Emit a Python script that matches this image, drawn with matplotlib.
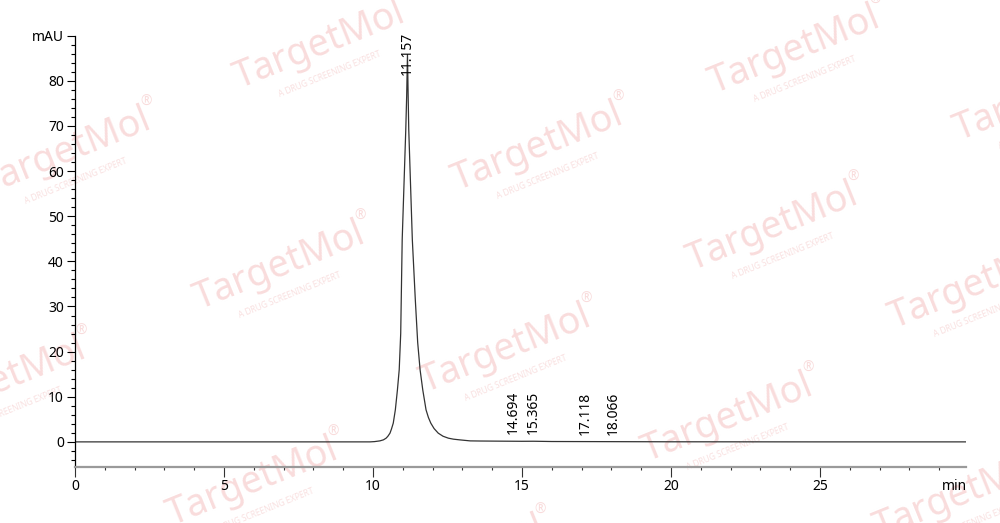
import numpy as np
import matplotlib
matplotlib.use('Agg')
import matplotlib.pyplot as plt
import matplotlib.transforms as mtransforms
from matplotlib.ticker import MultipleLocator

plt.rcParams['font.family'] = ['Noto Sans', 'DejaVu Sans']

# chromatogram trace (min, mAU)
time_min = [0.0, 5.0, 9.9, 10.05, 10.23, 10.35, 10.44, 10.50, 10.57, 10.62, 10.68,
            10.75, 10.82, 10.88, 10.93, 10.98, 11.05, 11.10, 11.13, 11.157, 11.18,
            11.20, 11.26, 11.32, 11.42, 11.50, 11.58, 11.67, 11.78, 11.86, 11.94,
            12.05, 12.19, 12.35, 12.53, 12.70, 12.92, 13.26, 13.6, 14.26, 15.0,
            15.4, 16.0, 18.0, 20.0, 25.0, 29.9]
signal_mau = [0.0, 0.0, 0.0, 0.06, 0.22, 0.45, 0.82, 1.25, 1.93, 2.85, 4.15,
              7.10, 11.53, 16.0, 24.0, 44.8, 59.0, 69.2, 76.6, 85.8, 76.6,
              69.2, 57.0, 44.8, 31.5, 22.0, 16.0, 11.53, 7.10, 5.40, 4.15,
              2.95, 1.93, 1.25, 0.82, 0.60, 0.44, 0.22, 0.19, 0.16, 0.13,
              0.14, 0.08, 0.05, 0.02, 0.0, 0.0]

# integrated peaks
peak_rt = [11.157, 14.694, 15.365, 17.118, 18.066]
peak_height = [85.8, 0.15, 0.14, 0.06, 0.05]
peak_labels = ['11.157', '14.694', '15.365', '17.118', '18.066']

y_ticks = [0, 10, 20, 30, 40, 50, 60, 70, 80, 90]
y_tick_labels = ['0', '10', '20', '30', '40', '50', '60', '70', '80', 'mAU']
x_ticks = [0, 5, 10, 15, 20, 25]

W, H = 1000, 523
fig = plt.figure(figsize=(W / 100, H / 100), dpi=100)
ax = fig.add_axes([0.075, 1 - 466.7 / H, 0.891, (466.7 - 35.7) / H])
ax.set_facecolor('none')

ax.plot(time_min, signal_mau, color='#333333', lw=0.9)

for rt, h, lab in zip(peak_rt, peak_height, peak_labels):
    ax.text(rt, min(h + 1.5, 81.4), lab, rotation=90, ha='center', va='bottom',
            fontsize=10, color='black')

ax.set_xlim(0, 29.9)
ax.set_ylim(-5.5, 90)
ax.set_xticks(x_ticks)
ax.xaxis.set_minor_locator(MultipleLocator(1))
ax.set_yticks(y_ticks)
ax.set_yticklabels(y_tick_labels)
ax.yaxis.set_minor_locator(MultipleLocator(2))

for s in ['top', 'right']:
    ax.spines[s].set_visible(False)
ax.spines['left'].set_color('black')
ax.spines['left'].set_linewidth(0.9)
ax.spines['bottom'].set_color('#9a9a9a')
ax.spines['bottom'].set_linewidth(1.6)

ax.tick_params(axis='y', which='major', length=6, width=0.8, pad=2, labelsize=10)
ax.tick_params(axis='y', which='minor', length=3, width=0.8)
ax.tick_params(axis='x', which='major', length=7, width=0.8, pad=2, labelsize=10,
               color='#333333')
ax.tick_params(axis='x', which='minor', length=2.5, width=0.8, color='#333333')

ax.annotate('min', xy=(1, 0), xycoords='axes fraction', xytext=(1, -9),
            textcoords='offset points', ha='right', va='top', fontsize=10)

# TargetMol watermarks (pixel centres, y measured from top)
marks = [(320, 45), (795, 50), (1040, 97), (66, 152), (538, 147), (773, 227),
         (280, 266), (975, 285), (1, 381), (506, 349), (728, 418), (253, 482),
         (960, 495), (460, 560)]
ang = 22
a = np.deg2rad(ang)
u = np.array([np.cos(a), np.sin(a)])
n = np.array([np.sin(a), -np.cos(a)])
ident = mtransforms.IdentityTransform()
for cx, cy in marks:
    c = np.array([cx, H - cy])
    fig.text(c[0], c[1], 'TargetMol', transform=ident, rotation=ang,
             rotation_mode='anchor', ha='center', va='center', fontsize=27,
             fontweight='semibold', color='#f9dcdc', zorder=-5)
    s = c + 31 * n - 2 * u
    fig.text(s[0], s[1], 'A DRUG SCREENING EXPERT', transform=ident, rotation=ang,
             rotation_mode='anchor', ha='center', va='center', fontsize=6,
             fontweight='semibold', color='#f9e0e0', zorder=-5)
    r = c + np.array([80, 50])
    fig.text(r[0], r[1], '®', transform=ident, ha='center', va='center',
             fontsize=10, color='#f9dcdc', zorder=-5)

fig.savefig('out.png', dpi=100)
print('Done: out.png')
